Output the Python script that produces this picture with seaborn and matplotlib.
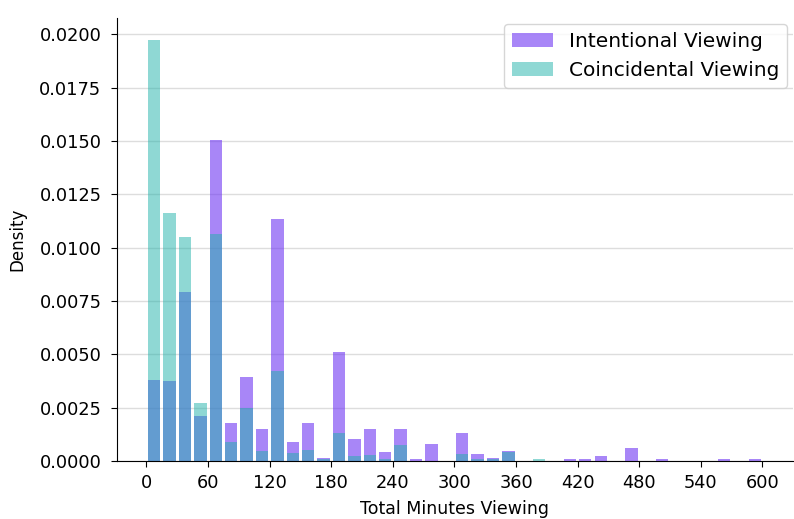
import numpy as np
import pandas as pd
import matplotlib
matplotlib.use("Agg")
import matplotlib.pyplot as plt
import seaborn as sns

# Bin edges (minutes) and per-bin density values
bin_edges = list(range(0, 615, 15))
intentional = [0.00380, 0.00376, 0.00793, 0.00212, 0.01503, 0.00177, 0.00395, 0.00148,
               0.01133, 0.00090, 0.00177, 0.00012, 0.00509, 0.00102, 0.00148, 0.00042,
               0.00148, 0.00010, 0.00080, 0.00000, 0.00130, 0.00033, 0.00012, 0.00045,
               0.00000, 0.00000, 0.00000, 0.00010, 0.00010, 0.00023, 0.00000, 0.00062,
               0.00000, 0.00010, 0.00000, 0.00000, 0.00000, 0.00010, 0.00000, 0.00010]
coincidental = [0.01972, 0.01163, 0.01048, 0.00270, 0.01062, 0.00090, 0.00250, 0.00044,
                0.00423, 0.00037, 0.00050, 0.00010, 0.00130, 0.00023, 0.00027, 0.00008,
                0.00073, 0.00000, 0.00000, 0.00000, 0.00033, 0.00008, 0.00010, 0.00040,
                0.00000, 0.00010, 0.00000, 0.00000, 0.00000, 0.00000, 0.00000, 0.00000,
                0.00000, 0.00000, 0.00000, 0.00000, 0.00000, 0.00000, 0.00000, 0.00000]
x_ticks = list(range(0, 660, 60))
y_ticks = [0.0000, 0.0025, 0.0050, 0.0075, 0.0100, 0.0125, 0.0150, 0.0175, 0.0200]

centers = [(a + b) / 2 for a, b in zip(bin_edges[:-1], bin_edges[1:])]

fig = plt.figure(figsize=(7.94, 5.19), dpi=100)
ax = fig.add_axes([0.147, 0.112, 0.852, 0.853])
ax.set_axisbelow(True)
ax.grid(axis="y", color="#dddddd", linewidth=1)

sns.histplot(x=centers, weights=intentional, bins=bin_edges, stat="count",
             shrink=0.8, color="#6e35f3", alpha=0.6, edgecolor="none",
             label="Intentional Viewing", ax=ax)
sns.histplot(x=centers, weights=coincidental, bins=bin_edges, stat="count",
             shrink=0.8, color="#20b2aa", alpha=0.5, edgecolor="none",
             label="Coincidental Viewing", ax=ax)

ax.set_xlim(-29, 630)
ax.set_ylim(0, 0.02075)
ax.set_xticks(x_ticks)
ax.set_yticks(y_ticks)
ax.set_yticklabels([f"{v:.4f}" for v in y_ticks])
ax.tick_params(axis="both", labelsize=12.8, length=4.5)
ax.tick_params(axis="y", pad=6.5)
ax.tick_params(axis="x", pad=5)
ax.set_xlabel("Total Minutes Viewing", fontsize=12.5, labelpad=6)
ax.set_ylabel("Density", fontsize=12, labelpad=9)
for s in ["top", "right"]:
    ax.spines[s].set_visible(False)
ax.legend(loc="upper right", fontsize=14.5, frameon=True, fancybox=True,
          borderaxespad=0.3)

fig.savefig("out.png", dpi=100)
